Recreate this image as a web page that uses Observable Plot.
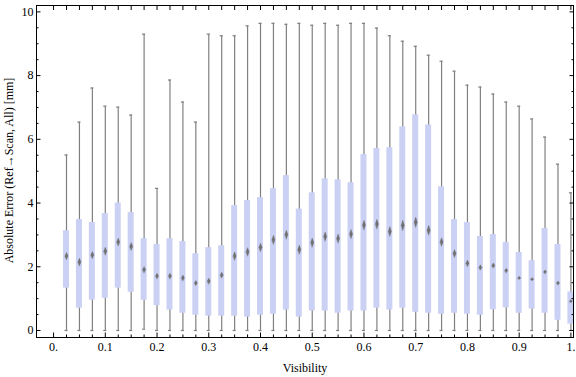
<!DOCTYPE html>
<html>
<head>
<meta charset="utf-8">
<script src="https://cdn.jsdelivr.net/npm/d3@7"></script>
<script src="https://cdn.jsdelivr.net/npm/@observablehq/plot@0.6"></script>
<style>
  html, body { margin: 0; padding: 0; background: #fff; }
  #chart svg { display: block; }
</style>
</head>
<body>
<div id="chart"></div>
<script>
// Visibility bins (box centers)
const visibility = [0.025,0.05,0.075,0.1,0.125,0.15,0.175,0.2,0.225,0.25,0.275,0.3,0.325,0.35,0.375,0.4,0.425,0.45,0.475,0.5,0.525,0.55,0.575,0.6,0.625,0.65,0.675,0.7,0.725,0.75,0.775,0.8,0.825,0.85,0.875,0.9,0.925,0.95,0.975,1.0];
// Whisker ends
const whiskerLow  = [0,0,0,0,0,0,0.04,0,0,0,0,0,0,0,0,0,0,0,0,0,0,0,0,0,0,0,0,0,0,0,0,0,0,0,0,0,0,0,0,0];
const whiskerHigh = [5.51,6.54,7.61,7.04,7.01,6.76,9.30,4.46,7.86,7.17,6.54,9.30,9.25,9.25,9.56,9.64,9.64,9.61,9.64,9.58,9.64,9.58,9.64,9.64,9.49,9.25,9.08,8.92,8.64,8.45,8.14,7.70,7.64,7.42,7.17,7.04,6.64,6.07,5.22,4.32];
// Quartiles
const q1 = [1.33,0.70,0.95,1.01,1.33,1.20,0.95,0.78,0.64,0.54,0.48,0.45,0.45,0.45,0.42,0.48,0.51,0.64,0.42,0.61,0.61,0.54,0.61,0.61,0.70,0.64,0.70,0.57,0.54,0.51,0.54,0.51,0.48,0.65,0.71,0.54,0.67,0.54,0.32,0.20];
const q3 = [3.13,3.48,3.39,3.67,4.00,3.70,2.88,2.70,2.88,2.79,2.41,2.60,2.66,3.92,4.08,4.17,4.45,4.86,3.81,4.32,4.76,4.73,4.64,5.52,5.71,5.74,6.39,6.77,6.45,4.51,3.48,3.39,2.95,3.01,2.76,2.45,2.19,3.20,2.70,1.21];
// Medians and their (marker) half-spread
const median = [2.34,2.15,2.37,2.49,2.78,2.64,1.91,1.71,1.71,1.65,1.49,1.55,1.74,2.34,2.47,2.61,2.85,3.01,2.54,2.76,2.95,2.89,3.03,3.31,3.34,3.11,3.30,3.40,3.15,2.78,2.42,2.11,1.98,2.04,1.88,1.65,1.61,1.84,1.49,0.92];
const medianSpread = [0.11,0.12,0.11,0.12,0.12,0.12,0.10,0.09,0.09,0.09,0.08,0.09,0.09,0.13,0.13,0.13,0.14,0.14,0.14,0.14,0.14,0.14,0.14,0.15,0.15,0.15,0.16,0.16,0.15,0.13,0.12,0.10,0.08,0.08,0.07,0.05,0.05,0.06,0.06,0.05];

// Tick values and labels
const xMajorTicks = [0,0.1,0.2,0.3,0.4,0.5,0.6,0.7,0.8,0.9,1];
const xMajorLabels = ["0.","0.1","0.2","0.3","0.4","0.5","0.6","0.7","0.8","0.9","1."];
const xMinorTicks = [0.025,0.05,0.075,0.125,0.15,0.175,0.225,0.25,0.275,0.325,0.35,0.375,0.425,0.45,0.475,0.525,0.55,0.575,0.625,0.65,0.675,0.725,0.75,0.775,0.825,0.85,0.875,0.925,0.95,0.975];
const yMajorTicks = [0,2,4,6,8,10];
const yMajorLabels = ["0","2","4","6","8","10"];
const yMinorTicks = [0.5,1,1.5,2.5,3,3.5,4.5,5,5.5,6.5,7,7.5,8.5,9,9.5];

const xLabel = "Visibility";
const yLabel = "Absolute Error (Ref\u2192Scan, All) [mm]";

const boxes = visibility.map((x, i) => ({
  x, lo: whiskerLow[i], hi: whiskerHigh[i], q1: q1[i], q3: q3[i], med: median[i], s: medianSpread[i]
}));

const boxHalf = 0.0058;
const capHalf = 0.003;
const diaHalf = 0.003;

const diamonds = boxes.flatMap((b, i) => [
  {i, x: b.x - diaHalf, y: b.med},
  {i, x: b.x, y: b.med + b.s},
  {i, x: b.x + diaHalf, y: b.med},
  {i, x: b.x, y: b.med - b.s}
]);

const fmtX = d => xMajorLabels[xMajorTicks.findIndex(t => Math.abs(t - d) < 1e-9)];
const fmtY = d => yMajorLabels[yMajorTicks.indexOf(d)];
const blank = () => "";

const whisk = "#808080";

const chart = Plot.plot({
  width: 576,
  height: 377,
  marginLeft: 36,
  marginRight: 3,
  marginTop: 5,
  marginBottom: 40,
  style: {fontFamily: "'Liberation Serif', 'DejaVu Serif', serif", fontSize: "12px", color: "#000", background: "#fff"},
  x: {domain: [-0.033, 1.005]},
  y: {domain: [-0.22, 10.2]},
  marks: [
    // whiskers
    Plot.ruleX(boxes, {x: "x", y1: "lo", y2: "hi", stroke: whisk, strokeWidth: 1.2}),
    Plot.ruleY(boxes, {y: "hi", x1: d => d.x - capHalf, x2: d => d.x + capHalf, stroke: whisk, strokeWidth: 1.2}),
    Plot.ruleY(boxes, {y: "lo", x1: d => d.x - capHalf, x2: d => d.x + capHalf, stroke: whisk, strokeWidth: 1.2}),
    // boxes
    Plot.rect(boxes, {x1: d => d.x - boxHalf, x2: d => d.x + boxHalf, y1: "q1", y2: "q3", fill: "#cbd1f4", clip: true}),
    // medians
    Plot.line(diamonds, {x: "x", y: "y", z: "i", fill: "#707070", stroke: "#707070", strokeWidth: 0.4, curve: "linear-closed"}),
    // frame
    Plot.frame({stroke: "#000", strokeWidth: 1}),
    // inward ticks
    Plot.axisX(xMajorTicks, {anchor: "bottom", tickSize: -4.5, tickFormat: blank, label: null}),
    Plot.axisX(xMinorTicks, {anchor: "bottom", tickSize: -2.5, tickFormat: blank, label: null}),
    Plot.axisX(xMajorTicks, {anchor: "top", tickSize: -4, tickFormat: blank, label: null}),
    Plot.axisX(xMinorTicks, {anchor: "top", tickSize: -4, tickFormat: blank, label: null}),
    Plot.axisY(yMajorTicks, {anchor: "left", tickSize: -4.5, tickFormat: blank, label: null}),
    Plot.axisY(yMinorTicks, {anchor: "left", tickSize: -2.5, tickFormat: blank, label: null}),
    Plot.axisY(yMajorTicks, {anchor: "right", tickSize: -4.5, tickFormat: blank, label: null}),
    Plot.axisY(yMinorTicks, {anchor: "right", tickSize: -2.5, tickFormat: blank, label: null}),
    // tick labels
    Plot.axisX(xMajorTicks, {anchor: "bottom", tickSize: 0, tickPadding: 5, tickFormat: fmtX, label: null, fontSize: 12}),
    Plot.axisY(yMajorTicks, {anchor: "left", tickSize: 0, tickPadding: 3, tickFormat: fmtY, label: null, fontSize: 12}),
    // axis titles
    Plot.text([xLabel], {frameAnchor: "bottom", dy: 31, text: d => d, fontSize: 12, lineAnchor: "middle", textAnchor: "middle"}),
    Plot.text([yLabel], {frameAnchor: "left", dx: -27.5, dy: -1, rotate: -90, text: d => d, fontSize: 12, lineAnchor: "middle", textAnchor: "middle"})
  ]
});

document.getElementById("chart").appendChild(chart);
</script>
</body>
</html>
